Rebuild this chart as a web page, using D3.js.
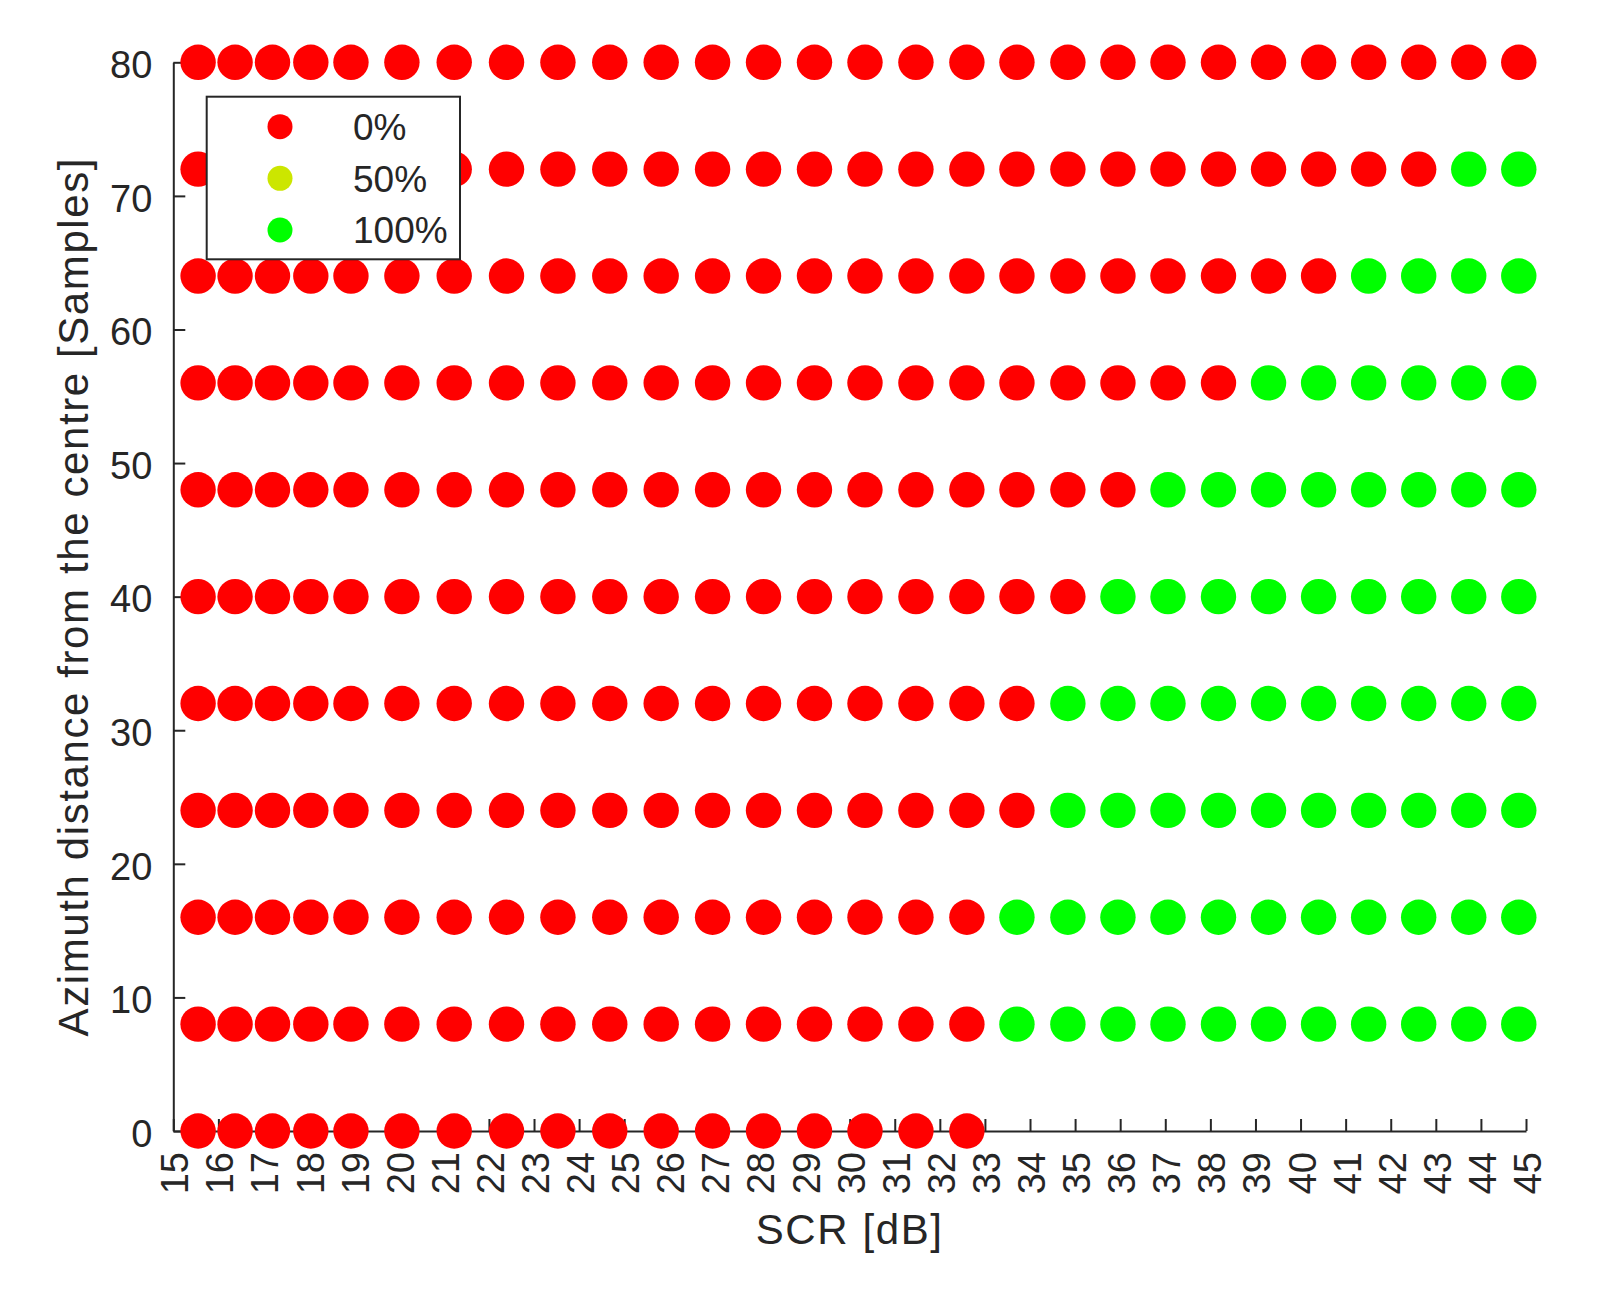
<!DOCTYPE html>
<html>
<head>
<meta charset="utf-8">
<script src="https://cdn.jsdelivr.net/npm/d3@7/dist/d3.min.js"></script>
<style>
  body { margin: 0; background: #fff; }
  text { font-family: "Liberation Sans", Arial, sans-serif; fill: #262626; }
</style>
</head>
<body>
<div id="chart"></div>
<script>
// SCR of each column of points [dB]
const scrValues = [15.55, 16.37, 17.2, 18.05, 18.94, 20.07, 21.23, 22.39, 23.53, 24.68,
  25.82, 26.96, 28.09, 29.22, 30.34, 31.47, 32.6, 33.71, 34.84, 35.95,
  37.06, 38.18, 39.29, 40.4, 41.51, 42.62, 43.73, 44.84];

// azimuth distance of each row [samples]
const distances = [0, 8, 16, 24, 32, 40, 48, 56, 64, 72, 80];

// detection rate (%) per row, same order as distances, one value per SCR column
const detectionRate = [
  [0,0,0,0,0,0,0,0,0,0,0,0,0,0,0,0,0],
  [0,0,0,0,0,0,0,0,0,0,0,0,0,0,0,0,0,100,100,100,100,100,100,100,100,100,100,100],
  [0,0,0,0,0,0,0,0,0,0,0,0,0,0,0,0,0,100,100,100,100,100,100,100,100,100,100,100],
  [0,0,0,0,0,0,0,0,0,0,0,0,0,0,0,0,0,0,100,100,100,100,100,100,100,100,100,100],
  [0,0,0,0,0,0,0,0,0,0,0,0,0,0,0,0,0,0,100,100,100,100,100,100,100,100,100,100],
  [0,0,0,0,0,0,0,0,0,0,0,0,0,0,0,0,0,0,0,100,100,100,100,100,100,100,100,100],
  [0,0,0,0,0,0,0,0,0,0,0,0,0,0,0,0,0,0,0,0,100,100,100,100,100,100,100,100],
  [0,0,0,0,0,0,0,0,0,0,0,0,0,0,0,0,0,0,0,0,0,0,100,100,100,100,100,100],
  [0,0,0,0,0,0,0,0,0,0,0,0,0,0,0,0,0,0,0,0,0,0,0,0,100,100,100,100],
  [0,0,0,0,0,0,0,0,0,0,0,0,0,0,0,0,0,0,0,0,0,0,0,0,0,0,100,100],
  [0,0,0,0,0,0,0,0,0,0,0,0,0,0,0,0,0,0,0,0,0,0,0,0,0,0,0,0]
];

const legendRates = [0, 50, 100];
const legendLabels = ["0%", "50%", "100%"];
const rateColors = ["#ff0000", "#cce600", "#00ff00"];

const xTicks = d3.range(15, 46, 1);
const yTicks = d3.range(0, 81, 10);

const width = 1604,
  height = 1302,
  plotLeft = 173.3,
  plotRight = 1526,
  plotTop = 62.3,
  plotBottom = 1131,
  dotR = 17.7;

const x = d3.scaleLinear().domain([15, 45]).range([plotLeft, plotRight]);
const y = d3.scaleLinear().domain([0, 80]).range([plotBottom, plotTop]);
const color = d3.scaleOrdinal().domain(legendRates).range(rateColors);

const points = [];
detectionRate.forEach((row, i) => {
  row.forEach((rate, j) => {
    points.push({ scr: scrValues[j], dist: distances[i], rate: rate });
  });
});

const svg = d3
  .select("#chart")
  .append("svg")
  .attr("width", width)
  .attr("height", height);

// x axis, ticks pointing inward
const xAxis = svg
  .append("g")
  .attr("transform", `translate(0,${plotBottom})`)
  .call(d3.axisBottom(x).tickValues(xTicks).tickSizeInner(-12).tickSizeOuter(0).tickFormat(d3.format("d")));
xAxis.select(".domain").attr("stroke", "#262626").attr("stroke-width", 2);
xAxis.selectAll(".tick line").attr("stroke", "#262626").attr("stroke-width", 2);
xAxis
  .selectAll(".tick text")
  .attr("transform", "translate(0,21)rotate(-90)")
  .attr("x", 0)
  .attr("y", 0)
  .attr("dy", "0.38em")
  .attr("text-anchor", "end")
  .style("font-size", "38px")
  .style("font-family", "'Liberation Sans', Arial, sans-serif")
  .attr("fill", "#262626");

// y axis
const yAxis = svg
  .append("g")
  .attr("transform", `translate(${plotLeft},0)`)
  .call(d3.axisLeft(y).tickValues(yTicks).tickSizeInner(-12).tickSizeOuter(0));
yAxis.select(".domain").attr("stroke", "#262626").attr("stroke-width", 2);
yAxis.selectAll(".tick line").attr("stroke", "#262626").attr("stroke-width", 2);
yAxis
  .selectAll(".tick text")
  .attr("x", -21)
  .attr("dy", "0.4em")
  .style("font-size", "38px")
  .style("font-family", "'Liberation Sans', Arial, sans-serif")
  .attr("fill", "#262626");

// points
svg
  .append("g")
  .selectAll("circle")
  .data(points)
  .join("circle")
  .attr("cx", (d) => x(d.scr))
  .attr("cy", (d) => y(d.dist))
  .attr("r", dotR)
  .attr("fill", (d) => color(d.rate));

// axis titles
svg
  .append("text")
  .attr("x", (plotLeft + plotRight) / 2)
  .attr("y", 1244)
  .attr("text-anchor", "middle")
  .style("font-size", "42px")
  .style("letter-spacing", "1.6px")
  .text("SCR [dB]");

svg
  .append("text")
  .attr("transform", `translate(88,${(plotTop + plotBottom) / 2})rotate(-90)`)
  .attr("text-anchor", "middle")
  .style("font-size", "42px")
  .style("letter-spacing", "1.6px")
  .text("Azimuth distance from the centre [Samples]");

// legend
const legend = svg.append("g");
legend
  .append("rect")
  .attr("x", 206.7)
  .attr("y", 96.7)
  .attr("width", 253.3)
  .attr("height", 162.6)
  .attr("fill", "#fff")
  .attr("stroke", "#262626")
  .attr("stroke-width", 2);

const legendRow = d3.scalePoint().domain(legendRates).range([126.7, 230]);
const items = legend
  .selectAll("g.item")
  .data(legendRates)
  .join("g")
  .attr("class", "item")
  .attr("transform", (d) => `translate(0,${legendRow(d)})`);
items
  .append("circle")
  .attr("cx", 280)
  .attr("cy", 0)
  .attr("r", 12.5)
  .attr("fill", (d) => color(d));
items
  .append("text")
  .attr("x", 353)
  .attr("dy", "0.36em")
  .style("font-size", "37px")
  .text((d, i) => legendLabels[i]);
</script>
</body>
</html>
